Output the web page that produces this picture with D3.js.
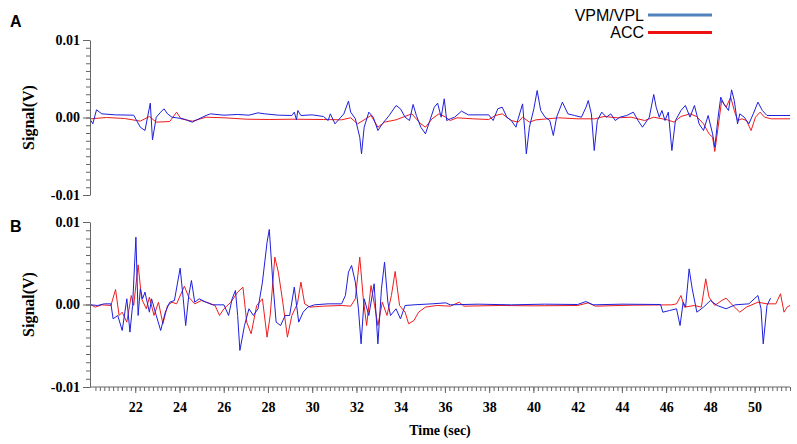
<!DOCTYPE html>
<html>
<head>
<meta charset="utf-8">
<script src="https://cdn.jsdelivr.net/npm/d3@7"></script>
<style>
  body { margin: 0; background: #fff; }
  svg { display: block; }
  .tick text { font-family: "Liberation Serif", "Times New Roman", serif; font-weight: bold; font-size: 14px; fill: #000; }
  .domain, .tick line { stroke: #666; }
</style>
</head>
<body>
<script>
// series: [time (sec), signal (mV)]
const vpmA = [
  [20.0,-0.39],[20.08,-0.82],[20.25,0.99],[20.49,0.47],[21.11,0.34],[21.93,0.30],[22.23,-1.25],[22.44,-1.68],
  [22.68,1.85],[22.78,-2.88],[22.95,0.04],[23.15,0.69],[23.30,1.12],[23.46,0.47],[23.66,0.04],[23.87,-0.04],
  [24.17,-0.17],[24.58,-0.60],[24.79,-0.30],[25.20,0.26],[25.40,0.47],[26.01,0.30],[26.63,0.39],[27.14,0.30],
  [27.55,0.60],[27.86,0.47],[28.47,0.30],[29.08,0.26],[29.19,0.69],[29.29,-0.30],[29.35,0.90],[29.49,0.26],
  [30.00,0.34],[30.51,0.13],[30.72,-0.39],[30.82,0.47],[31.03,-0.82],[31.23,-0.17],[31.43,0.47],[31.64,2.11],
  [31.74,0.69],[31.95,-0.17],[32.15,-2.54],[32.23,-4.69],[32.35,-1.25],[32.56,0.69],[32.76,0.04],[32.97,-1.68],
  [33.17,-0.82],[33.48,0.26],[33.79,1.55],[33.99,1.12],[34.20,0.04],[34.40,-0.39],[34.56,1.68],[34.71,0.26],
  [34.91,-1.25],[35.12,-2.11],[35.32,-0.39],[35.52,1.33],[35.67,1.85],[35.83,0.04],[35.97,2.41],[36.08,-0.39],
  [36.24,-0.17],[36.44,0.04],[36.75,0.82],[37.06,0.34],[37.98,0.34],[38.18,-0.39],[38.39,1.12],[38.59,1.33],
  [38.80,0.04],[39.00,-0.39],[39.21,-1.25],[39.31,-0.17],[39.51,1.76],[39.61,-1.68],[39.68,-4.69],[39.82,-1.25],
  [40.02,1.12],[40.17,3.48],[40.33,0.90],[40.53,0.04],[40.74,-0.39],[40.90,-2.32],[41.05,0.04],[41.31,1.98],
  [41.56,0.47],[41.86,0.26],[42.17,0.04],[42.38,1.33],[42.48,2.19],[42.62,0.47],[42.75,-4.26],[42.89,-0.39],
  [43.09,0.69],[43.30,0.04],[43.50,0.47],[43.70,-0.39],[43.91,0.04],[44.22,0.26],[44.52,0.69],[44.73,-0.39],
  [44.93,-1.25],[45.24,0.04],[45.44,2.97],[45.55,1.33],[45.69,0.04],[45.81,0.90],[45.95,-0.39],[46.10,0.69],
  [46.26,-4.26],[46.42,-0.39],[46.67,0.90],[46.87,1.55],[47.08,0.04],[47.28,1.55],[47.49,-0.82],[47.69,-1.68],
  [47.90,0.26],[48.10,-2.11],[48.20,-3.83],[48.35,0.04],[48.47,2.62],[48.61,1.76],[48.82,0.90],[48.96,3.57],
  [49.08,2.19],[49.23,-0.82],[49.33,0.47],[49.53,0.04],[49.74,-0.82],[49.94,0.47],[50.15,1.98],[50.35,0.90],
  [50.56,0.26],[51.60,0.26]
];
const accA = [
  [20.0,-0.17],[20.70,0.0],[21.52,-0.13],[22.23,-0.47],[22.64,0.13],[22.95,-0.60],[23.56,-0.52],[23.87,0.69],
  [24.07,-0.17],[24.58,-0.47],[25.20,0.04],[26.01,-0.04],[27.04,-0.22],[28.06,-0.26],[29.08,-0.22],[30.51,-0.26],
  [31.33,-0.30],[31.74,-0.04],[32.05,-0.82],[32.35,-0.30],[32.66,0.26],[32.97,-1.25],[33.27,-0.60],[33.79,-0.30],
  [34.50,0.47],[34.91,-0.82],[35.12,-1.25],[35.42,-0.17],[35.73,0.47],[36.04,0.04],[36.24,-0.39],[36.55,-0.04],
  [37.26,-0.17],[37.98,-0.26],[38.28,0.26],[38.59,0.47],[39.00,-0.39],[39.31,-0.60],[39.51,0.04],[39.82,-0.60],
  [40.12,-0.30],[41.15,-0.04],[41.97,-0.17],[42.78,-0.17],[43.19,0.13],[43.81,-0.04],[44.42,0.04],[45.03,-0.39],
  [45.44,0.04],[46.06,-0.30],[46.36,-0.60],[46.67,0.13],[47.08,0.47],[47.38,0.13],[47.69,-0.82],[47.94,-2.11],
  [48.10,-2.54],[48.20,-4.39],[48.35,-1.25],[48.51,2.19],[48.71,1.33],[48.92,2.62],[49.08,0.90],[49.23,-0.39],
  [49.43,-0.17],[49.63,-0.39],[49.84,-1.68],[50.04,0.04],[50.25,0.69],[50.45,0.04],[50.76,-0.17],[51.60,-0.17]
];
const vpmB = [
  [20.0,-0.04],[20.30,-0.12],[20.60,0.08],[20.90,0.08],[21.00,-1.74],[21.21,-1.33],[21.41,-3.15],[21.62,0.69],
  [21.76,-3.35],[21.88,-0.12],[22.03,8.16],[22.13,-1.33],[22.23,1.90],[22.33,0.69],[22.44,1.50],[22.64,-0.93],
  [22.74,0.69],[22.95,-1.33],[23.15,-3.15],[23.36,-0.93],[23.56,0.28],[23.77,0.48],[24.03,4.40],[24.17,0.69],
  [24.28,-2.55],[24.42,1.09],[24.54,2.91],[24.69,0.28],[24.89,0.69],[25.20,0.28],[25.50,-0.04],[26.01,-0.04],
  [26.22,-1.33],[26.38,0.69],[26.53,1.70],[26.63,-1.33],[26.73,-5.57],[26.94,-2.55],[27.14,-0.52],[27.34,-1.33],
  [27.55,-0.52],[27.75,2.71],[27.96,7.56],[28.06,9.09],[28.22,2.71],[28.37,-2.14],[28.57,-2.55],[28.78,-1.33],
  [28.98,-1.33],[29.19,2.10],[29.39,-2.14],[29.59,-0.93],[29.80,-0.32],[30.10,-0.04],[30.72,0.08],[31.33,0.08],
  [31.50,1.09],[31.64,3.92],[31.78,4.73],[31.95,2.71],[32.09,-0.52],[32.21,-4.77],[32.35,0.69],[32.56,-1.33],
  [32.80,2.51],[32.97,-4.77],[33.13,1.90],[33.27,5.13],[33.42,0.28],[33.54,-1.33],[33.79,-0.52],[33.99,-1.74],
  [34.20,-0.12],[34.60,-0.04],[35.42,0.08],[36.04,0.20],[36.24,-0.04],[37.50,0.04],[39.00,-0.04],[40.50,0.04],
  [42.00,0.0],[42.37,0.36],[42.70,-0.04],[44.00,0.04],[45.75,0.0],[45.85,-0.93],[46.16,-0.73],[46.47,-0.52],
  [46.63,-2.55],[46.77,0.28],[46.88,-0.32],[47.04,4.32],[47.18,1.90],[47.39,-0.93],[47.69,-0.32],[48.00,0.48],
  [48.31,-0.12],[48.71,-0.52],[49.12,-0.04],[49.74,0.08],[50.15,1.09],[50.29,-0.52],[50.39,-4.77],[50.56,-0.12],
  [50.72,0.77]
];
const accB = [
  [20.0,-0.04],[20.19,-0.32],[20.49,-0.04],[20.90,-0.12],[21.11,1.82],[21.27,-1.33],[21.41,-0.93],[21.62,-2.14],
  [21.82,1.09],[21.93,-0.12],[22.13,4.81],[22.29,0.69],[22.50,-0.52],[22.64,0.89],[22.85,-1.33],[23.05,0.28],
  [23.25,-2.34],[23.46,-0.12],[23.66,0.28],[23.87,0.08],[24.22,2.22],[24.42,0.89],[24.69,0.08],[24.99,0.48],
  [25.30,0.20],[25.61,-0.12],[25.81,-1.33],[26.01,-0.52],[26.32,0.28],[26.63,1.50],[26.87,2.10],[27.04,-2.14],
  [27.24,-3.55],[27.49,-0.12],[27.75,0.69],[27.96,-3.96],[28.10,-1.33],[28.31,5.74],[28.47,3.92],[28.67,0.28],
  [28.88,-3.96],[29.08,-1.33],[29.33,0.08],[29.49,2.71],[29.66,0.08],[29.90,-0.32],[30.51,-0.20],[31.33,-0.12],
  [31.74,-0.20],[31.95,0.69],[32.15,5.74],[32.31,0.69],[32.46,-2.55],[32.66,2.30],[32.82,-0.12],[32.97,-2.55],
  [33.17,0.28],[33.38,-1.33],[33.58,1.09],[33.75,4.00],[33.95,-0.12],[34.20,-0.93],[34.36,-2.34],[34.60,-1.94],
  [34.81,-0.93],[35.12,-0.32],[35.63,-0.12],[36.24,-0.20],[36.65,0.28],[36.85,-0.20],[38.50,-0.12],[40.00,-0.16],
  [42.00,-0.12],[42.48,0.20],[42.80,-0.20],[44.50,-0.08],[46.26,-0.04],[46.47,0.08],[46.67,1.09],[46.83,-0.32],
  [47.28,-0.12],[47.59,-0.32],[47.79,3.11],[47.94,0.89],[48.20,-0.12],[48.51,0.48],[48.71,0.77],[49.02,-0.12],
  [49.33,-0.93],[49.63,-0.32],[50.15,0.28],[50.56,0.08],[50.96,0.08],[51.17,1.30],[51.33,-0.93],[51.47,-0.32],
  [51.60,-0.12]
];
const xMajorTicks = [22, 24, 26, 28, 30, 32, 34, 36, 38, 40, 42, 44, 46, 48, 50];
const yMajorTicks = [-10, 0, 10];
const legendItems = [
  { label: "VPM/VPL", color: "#4f81bd" },
  { label: "ACC", color: "#ee1111" }
];

const width = 797, height = 444;
const svg = d3.select("body").append("svg")
    .attr("width", width)
    .attr("height", height);

const x = d3.scaleLinear().domain([20, 51.6]).range([91, 790]);
const xAxisStart = 90;

const panels = [
  { name: "A", top: 40, bottom: 195, vpm: vpmA, acc: accA, xAxis: false, labelY: 27 },
  { name: "B", top: 222, bottom: 387, vpm: vpmB, acc: accB, xAxis: true, labelY: 232 }
];

panels.forEach(p => {
  const y = d3.scaleLinear().domain([-10, 10]).range([p.bottom, p.top]);
  const g = svg.append("g");

  // minor y ticks every 0.001 V
  g.append("g")
      .attr("transform", `translate(${xAxisStart},0)`)
      .call(d3.axisLeft(y).tickValues(d3.range(-10, 11, 1)).tickSize(4).tickFormat(""))
      .call(a => a.select(".domain").remove());

  g.append("g")
      .attr("transform", `translate(${xAxisStart},0)`)
      .call(d3.axisLeft(y).tickValues(yMajorTicks).tickSize(7).tickSizeOuter(0).tickPadding(3)
        .tickFormat(d => (d / 1000).toFixed(2)));

  if (p.xAxis) {
    const xa = d3.scaleLinear().domain(x.domain()).range(x.range());
    g.append("line")
        .attr("x1", xAxisStart).attr("x2", 790)
        .attr("y1", p.bottom).attr("y2", p.bottom)
        .attr("stroke", "#666");
    g.append("g")
        .attr("transform", `translate(0,${p.bottom})`)
        .call(d3.axisBottom(xa).tickValues(d3.range(20.2, 51.61, 0.2)).tickSize(4).tickFormat(""))
        .call(a => a.select(".domain").remove());
    g.append("g")
        .attr("transform", `translate(0,${p.bottom})`)
        .call(d3.axisBottom(xa).tickValues(xMajorTicks).tickSize(6).tickPadding(9).tickFormat(d3.format("d")))
        .call(a => a.select(".domain").remove());
  }

  const line = d3.line().x(d => x(d[0])).y(d => y(d[1]));

  g.append("path")
      .datum(p.acc)
      .attr("fill", "none")
      .attr("stroke", "#ee1c1c")
      .attr("stroke-width", 1)
      .attr("d", line);

  g.append("path")
      .datum(p.vpm)
      .attr("fill", "none")
      .attr("stroke", "#1f1fdc")
      .attr("stroke-width", 1)
      .attr("d", line);

  g.append("text")
      .attr("transform", `translate(34,${(p.top + p.bottom) / 2}) rotate(-90)`)
      .attr("text-anchor", "middle")
      .style("font-family", "Liberation Serif, Times New Roman, serif")
      .style("font-weight", "bold")
      .style("font-size", "16px")
      .text("Signal(V)");

  g.append("text")
      .attr("x", 10)
      .attr("y", p.labelY)
      .style("font-family", "Liberation Sans, Arial, sans-serif")
      .style("font-weight", "bold")
      .style("font-size", "16px")
      .text(p.name);
});

svg.append("text")
    .attr("x", 440)
    .attr("y", 435)
    .attr("text-anchor", "middle")
    .style("font-family", "Liberation Serif, Times New Roman, serif")
    .style("font-weight", "bold")
    .style("font-size", "14px")
    .text("Time (sec)");

// legend
const legend = svg.append("g").selectAll("g")
    .data(legendItems)
    .enter()
    .append("g")
    .attr("transform", (d, i) => `translate(0,${15 + i * 17.5})`);

legend.append("text")
    .attr("x", 644)
    .attr("y", 5.5)
    .attr("text-anchor", "end")
    .style("font-family", "Liberation Sans, Arial, sans-serif")
    .style("font-size", "16px")
    .text(d => d.label);

legend.append("line")
    .attr("x1", 648).attr("x2", 712)
    .attr("y1", 0).attr("y2", 0)
    .attr("stroke", d => d.color)
    .attr("stroke-width", 3);
</script>
</body>
</html>
